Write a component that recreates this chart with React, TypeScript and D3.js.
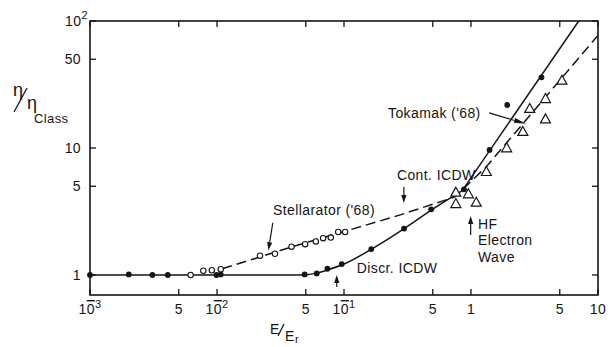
import React from 'react'
import * as d3 from 'd3'

const width = 608
const height = 347

// Discr. ICDW - filled dots
const discrX = [0.001, 0.00202, 0.0031, 0.0041, 0.0099, 0.0107, 0.049, 0.061, 0.074, 0.096, 0.164, 0.297, 0.486, 0.88, 1.4, 1.93, 3.59]
const discrY = [1, 1.01, 1, 1, 1, 1.01, 1.01, 1.03, 1.12, 1.22, 1.6, 2.32, 3.29, 4.73, 9.65, 21.8, 36]

// Stellarator ('68) - open circles
const stellX = [0.0062, 0.0078, 0.0091, 0.0107, 0.0218, 0.0286, 0.0386, 0.0494, 0.06, 0.0685, 0.0787, 0.09, 0.102]
const stellY = [1, 1.08, 1.09, 1.11, 1.42, 1.47, 1.67, 1.75, 1.84, 1.95, 1.97, 2.18, 2.18]

// HF electron wave - open triangles
const hfX = [0.76, 0.76, 0.953, 1.1, 1.32, 1.91, 2.56, 2.9, 3.86, 3.86, 5.2]
const hfY = [4.45, 3.62, 4.32, 3.71, 6.47, 9.95, 13.4, 20.3, 24.3, 16.8, 33.9]

// solid curve (Discr. ICDW theory)
const solidX = [0.001, 0.045, 0.06, 0.075, 0.1, 0.165, 0.3, 0.5, 0.85]
const solidY = [1, 1, 1.03, 1.1, 1.22, 1.6, 2.33, 3.3, 4.6]
const solidTopX = [0.85, 7.05]
const solidTopY = [4.6, 100]

// dashed curve (Cont. ICDW theory)
const dashX = [0.011, 0.02, 0.04, 0.1, 0.27, 0.74, 1.3, 10]
const dashY = [1.12, 1.35, 1.68, 2.2, 2.95, 4.1, 7, 77]

// ticks ("10̄³" style labels: bar over the 0 means a negative exponent)
const xTicks = [0.001, 0.005, 0.01, 0.05, 0.1, 0.5, 1, 5, 10]
const xTickBase = ['10', '5', '10', '5', '10', '5', '1', '5', '10']
const xTickExp = ['3', '', '2', '', '1', '', '', '', '']
const yTicks = [1, 5, 10, 50, 100]
const yTickBase = ['1', '5', '10', '50', '10']
const yTickExp = ['', '', '', '', '2']

const x = d3.scaleLog().domain([1e-3, 10]).range([90, 598])
const y = d3.scaleLog().domain([0.696, 100]).range([295, 21])

const font = "'Liberation Sans', Arial, sans-serif"
const ink = '#151515'

function Arrow({ x1, y1, x2, y2, head = 8, w = 2.6, sw = 1.2 }: any) {
  const a = Math.atan2(y2 - y1, x2 - x1)
  const bx = x2 - head * Math.cos(a)
  const by = y2 - head * Math.sin(a)
  const px = -Math.sin(a) * w
  const py = Math.cos(a) * w
  return (
    <g>
      <line x1={x1} y1={y1} x2={bx} y2={by} stroke={ink} strokeWidth={sw} />
      <polygon points={`${x2},${y2} ${bx + px},${by + py} ${bx - px},${by - py}`} fill={ink} />
    </g>
  )
}

export default function App() {
  const solidPath = d3.line<number>()
    .x(i => x(solidX[i]))
    .y(i => y(solidY[i]))
    .curve(d3.curveMonotoneX)(solidX.map((_, i) => i))
  const solidTopPath = d3.line<number>().x(i => x(solidTopX[i])).y(i => y(solidTopY[i]))(solidTopX.map((_, i) => i))
  const dashPath = d3.line<number>().x(i => x(dashX[i])).y(i => y(dashY[i]))(dashX.map((_, i) => i))

  const [x0, x1] = x.range()
  const [y0, y1] = y.range()
  const txt = { fontFamily: font, fontSize: 14, fill: ink, letterSpacing: 0.4 }

  return (
    <svg width={width} height={height} style={{ position: 'absolute', left: 0, top: 0, background: '#fff' }}>
      <defs>
        <clipPath id="plot">
          <rect x={x0} y={y1} width={x1 - x0} height={y0 - y1} />
        </clipPath>
      </defs>

      {/* frame */}
      <rect x={x0} y={y1} width={x1 - x0} height={y0 - y1} fill="none" stroke={ink} strokeWidth={1.6} />

      {/* x ticks, bottom and top */}
      {xTicks.map((t, i) => {
        const neg = xTickExp[i] !== ''
        return (
          <g key={'xt' + i}>
            <line x1={x(t)} x2={x(t)} y1={y0} y2={y0 - 6} stroke={ink} strokeWidth={1.3} />
            <line x1={x(t)} x2={x(t)} y1={y1} y2={y1 + 6} stroke={ink} strokeWidth={1.3} />
            <text x={x(t)} y={y0 + 19} textAnchor="middle" style={txt}>
              {neg ? '1' : xTickBase[i]}
              {neg && <tspan style={{ textDecoration: 'overline' }}>0</tspan>}
              {neg && <tspan dy={-6} fontSize={11}>{xTickExp[i]}</tspan>}
            </text>
          </g>
        )
      })}

      {/* y ticks, left and right */}
      {yTicks.map((t, i) => (
        <g key={'yt' + i}>
          <line x1={x0} x2={x0 + 6} y1={y(t)} y2={y(t)} stroke={ink} strokeWidth={1.3} />
          <line x1={x1} x2={x1 - 6} y1={y(t)} y2={y(t)} stroke={ink} strokeWidth={1.3} />
          <text x={yTickExp[i] ? x0 - 2 : x0 - 9} y={y(t) + 5} textAnchor="end" style={txt}>
            {yTickBase[i]}
            {yTickExp[i] && <tspan dy={-7} fontSize={11}>{yTickExp[i]}</tspan>}
          </text>
        </g>
      ))}

      {/* axis titles */}
      <text x={13} y={96} style={{ ...txt, fontSize: 18 }}>η</text>
      <line x1={14} y1={112} x2={27} y2={88} stroke={ink} strokeWidth={1.3} />
      <text x={27} y={109} style={{ ...txt, fontSize: 18 }}>η</text>
      <text x={34} y={123} style={{ ...txt, fontSize: 13 }}>Class</text>

      <text x={270} y={334} style={{ ...txt, fontSize: 14 }}>E</text>
      <line x1={278} y1={336} x2={284} y2={324} stroke={ink} strokeWidth={1.2} />
      <text x={285} y={341} style={{ ...txt, fontSize: 14 }}>E</text>
      <text x={295} y={343} style={{ ...txt, fontSize: 11 }}>r</text>

      {/* curves */}
      <g clipPath="url(#plot)">
        <path d={solidPath || ''} fill="none" stroke={ink} strokeWidth={1.5} />
        <path d={solidTopPath || ''} fill="none" stroke={ink} strokeWidth={1.5} />
        <path d={dashPath || ''} fill="none" stroke={ink} strokeWidth={1.5} strokeDasharray="10,5" />
      </g>

      {/* data */}
      {discrX.map((v, i) => (
        <circle key={'d' + i} cx={x(v)} cy={y(discrY[i])} r={2.9} fill={ink} />
      ))}
      {stellX.map((v, i) => (
        <circle key={'s' + i} cx={x(v)} cy={y(stellY[i])} r={2.7} fill="#fff" stroke={ink} strokeWidth={1.1} />
      ))}
      {hfX.map((v, i) => {
        const cx = x(v), cy = y(hfY[i])
        return (
          <polygon key={'h' + i}
            points={`${cx},${cy - 5.5} ${cx - 5},${cy + 3.5} ${cx + 5},${cy + 3.5}`}
            fill="#fff" stroke={ink} strokeWidth={1.2} />
        )
      })}

      {/* annotations */}
      <text x={x(0.0276)} y={y(2.97)} style={txt}>Stellarator ('68)</text>
      <Arrow x1={x(0.0275)} y1={y(2.57)} x2={x(0.0254)} y2={y(1.57)} />

      <text x={x(0.261)} y={y(5.6)} style={txt}>Cont. ICDW</text>
      <Arrow x1={x(0.296)} y1={y(4.93)} x2={x(0.296)} y2={y(3.69)} />

      <text x={x(0.126)} y={y(1.04)} style={txt}>Discr. ICDW</text>
      <Arrow x1={x(0.0877)} y1={y(0.804)} x2={x(0.0877)} y2={y(1.0)} />

      <Arrow x1={x(0.994)} y1={y(2.07)} x2={x(0.994)} y2={y(2.92)} />
      <text x={x(1.135)} y={y(2.3)} style={txt}>HF</text>
      <text x={x(1.135)} y={y(1.72)} style={txt}>Electron</text>
      <text x={x(1.135)} y={y(1.27)} style={txt}>Wave</text>

      <text x={x(0.222)} y={y(17.2)} style={txt}>Tokamak ('68)</text>
      <Arrow x1={x(1.39)} y1={y(18.9)} x2={x(2.71)} y2={y(15.5)} head={12} w={2.4} sw={1.1} />
    </svg>
  )
}
